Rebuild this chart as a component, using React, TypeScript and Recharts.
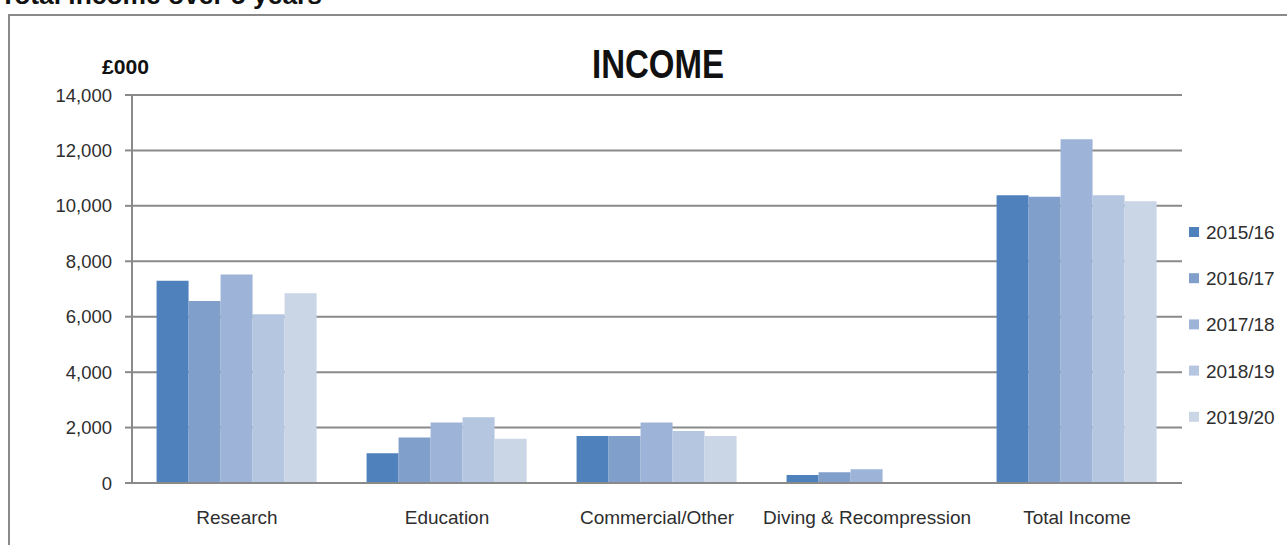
import React from 'react';
import { BarChart, Bar, XAxis, YAxis, CartesianGrid } from 'recharts';

const categories = ['Research', 'Education', 'Commercial/Other', 'Diving & Recompression', 'Total Income'];
const seriesNames = ['2015/16', '2016/17', '2017/18', '2018/19', '2019/20'];
const seriesColors = ['#4f81bd', '#809fcb', '#9db4d8', '#b5c6e1', '#cad5e6'];
const v2015 = [7300, 1070, 1700, 290, 10380];
const v2016 = [6570, 1640, 1700, 390, 10330];
const v2017 = [7520, 2180, 2180, 495, 12400];
const v2018 = [6090, 2370, 1880, 0, 10380];
const v2019 = [6850, 1600, 1700, 0, 10170];
const yTicks = [0, 2000, 4000, 6000, 8000, 10000, 12000, 14000];

const seriesValues = [v2015, v2016, v2017, v2018, v2019];
const data = categories.map((c, i) => {
  const row: Record<string, string | number> = { category: c };
  seriesNames.forEach((s, j) => {
    row[s] = seriesValues[j][i];
  });
  return row;
});

const FONT = "'Liberation Sans', Arial, sans-serif";
const GRID = '#8a8a8a';

export default function App() {
  return (
    <div style={{ position: 'absolute', left: 0, top: 0, width: 1287, height: 545, overflow: 'hidden', background: '#fff' }}>
      <div style={{ position: 'absolute', left: 0, top: 0 }}>
        <BarChart
          width={1287}
          height={545}
          data={data}
          margin={{ top: 95, right: 105, bottom: 0, left: 0 }}
          barCategoryGap="11.7%"
          barGap={0}
        >
          <CartesianGrid vertical={false} stroke={GRID} strokeWidth={2} />
          <XAxis
            dataKey="category"
            height={62}
            tickLine={false}
            axisLine={{ stroke: GRID, strokeWidth: 2 }}
            tickMargin={22}
            interval={0}
            tick={{ fill: '#2e2e2e', fontSize: 19, fontFamily: FONT }}
          />
          <YAxis
            width={132}
            domain={[0, 14000]}
            ticks={yTicks}
            interval={0}
            tickSize={7}
            tickMargin={13}
            tickLine={{ stroke: GRID, strokeWidth: 2 }}
            axisLine={{ stroke: GRID, strokeWidth: 2 }}
            tickFormatter={(v: number) => v.toLocaleString('en-US')}
            tick={{ fill: '#2e2e2e', fontSize: 18.5, fontFamily: FONT }}
          />
          {seriesNames.map((s, j) => (
            <Bar key={s} dataKey={s} fill={seriesColors[j]} isAnimationActive={false} />
          ))}
        </BarChart>
      </div>
      <svg width={1287} height={545} style={{ position: 'absolute', left: 0, top: 0, pointerEvents: 'none' }}>
        <text x={0} y={4} fontFamily={FONT} fontWeight="bold" fontSize={26} fill="#111" textLength={322} lengthAdjust="spacingAndGlyphs">
          Total income over 5 years
        </text>
        <line x1={8} y1={15} x2={1287} y2={15} stroke={GRID} strokeWidth={2} />
        <line x1={9} y1={14} x2={9} y2={545} stroke={GRID} strokeWidth={2} />
        <text x={658} y={78} textAnchor="middle" fontFamily={FONT} fontWeight="bold" fontSize={40} fill="#111" textLength={132} lengthAdjust="spacingAndGlyphs">
          INCOME
        </text>
        <text x={102} y={74} fontFamily={FONT} fontWeight="bold" fontSize={20} fill="#111" textLength={47} lengthAdjust="spacingAndGlyphs">
          £000
        </text>
        {seriesNames.map((s, j) => (
          <g key={s}>
            <rect x={1189} y={227 + j * 46.2} width={10} height={10} fill={seriesColors[j]} />
            <text x={1206} y={239 + j * 46.2} fontFamily={FONT} fontSize={19} fill="#2e2e2e">
              {s}
            </text>
          </g>
        ))}
      </svg>
    </div>
  );
}
